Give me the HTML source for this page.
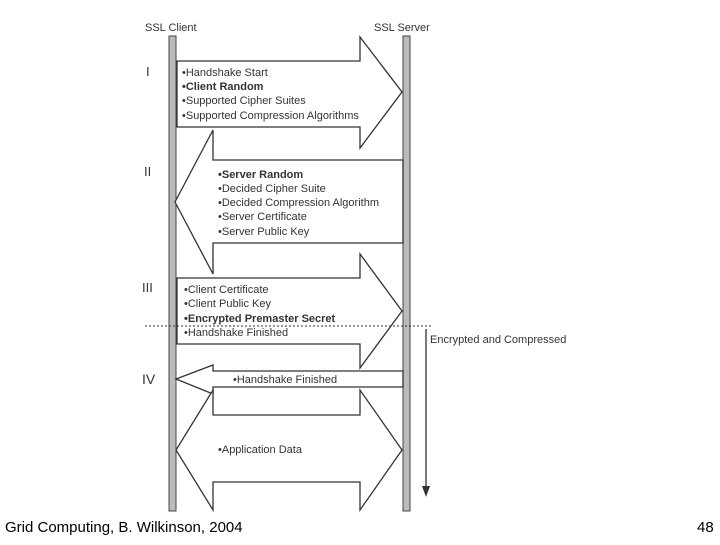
<!DOCTYPE html>
<html><head><meta charset="utf-8"><style>
body{margin:0;background:#fff;}
svg text{font-family:"Liberation Sans",sans-serif;fill:#333;}
</style></head><body>
<svg width="720" height="540" viewBox="0 0 720 540" xmlns="http://www.w3.org/2000/svg">
<rect width="720" height="540" fill="#fff"/>
<text x="145" y="31" font-size="11">SSL Client</text>
<text x="374" y="31" font-size="11">SSL Server</text>
<rect x="169" y="36" width="7" height="475" fill="#bbb" stroke="#444" stroke-width="1"/>
<rect x="403" y="36" width="7" height="475" fill="#bbb" stroke="#444" stroke-width="1"/>
<g fill="#fff" stroke="#333" stroke-width="1.3">
<polygon points="177,61 360,61 360,37 402,92 360,148 360,127 177,127"/>
<polygon points="403,160 213,160 213,130 175,202 213,274 213,243 403,243"/>
<polygon points="177,278 360,278 360,254 402,311 360,368 360,344 177,344"/>
<polygon points="403,371 213,371 213,365 176,379 213,394 213,387 403,387"/>
<polygon points="213,415 360,415 360,390 402,450 360,510 360,482 213,482 213,510 176,450 213,390"/>
</g>
<g font-size="11">
<text x="146" y="76" font-size="13">I</text>
<text x="144" y="176" font-size="13">II</text>
<text x="142" y="292" font-size="13">III</text>
<text x="142" y="384" font-size="14">IV</text>
<text x="182" y="76">•Handshake Start</text>
<text x="182" y="90" font-weight="bold">•Client Random</text>
<text x="182" y="104">•Supported Cipher Suites</text>
<text x="182" y="119">•Supported Compression Algorithms</text>
<text x="218" y="178" font-weight="bold">•Server Random</text>
<text x="218" y="192">•Decided Cipher Suite</text>
<text x="218" y="206">•Decided Compression Algorithm</text>
<text x="218" y="220">•Server Certificate</text>
<text x="218" y="235">•Server Public Key</text>
<text x="184" y="293">•Client Certificate</text>
<text x="184" y="307">•Client Public Key</text>
<text x="184" y="322" font-weight="bold">•Encrypted Premaster Secret</text>
<text x="184" y="336">•Handshake Finished</text>
<text x="233" y="383">•Handshake Finished</text>
<text x="218" y="453">•Application Data</text>
<text x="430" y="343">Encrypted and Compressed</text>
</g>
<line x1="145" y1="326" x2="433" y2="326" stroke="#333" stroke-width="1" stroke-dasharray="2,2"/>
<line x1="426" y1="329" x2="426" y2="490" stroke="#333" stroke-width="1.3"/>
<polygon points="422,486 430,486 426,497" fill="#333"/>
<text x="5" y="532" font-size="15" style="fill:#000">Grid Computing, B. Wilkinson, 2004</text>
<text x="697" y="532" font-size="15" style="fill:#000">48</text>
</svg>
</body></html>
